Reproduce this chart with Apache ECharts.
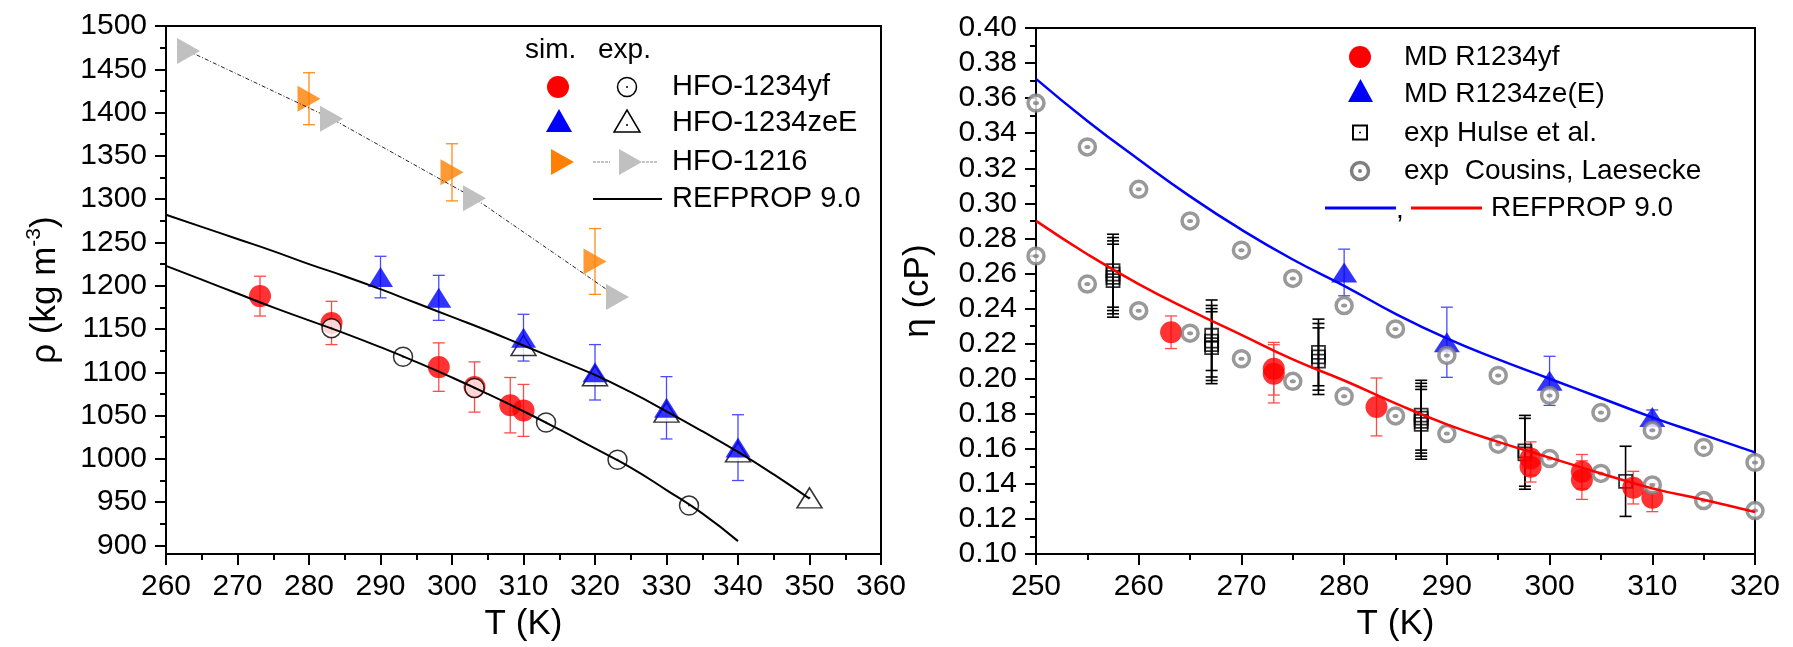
<!DOCTYPE html>
<html lang="en" style="height: 100%">
<head>
  <meta charset="utf-8">
</head>
<body style="height: 100%; margin: 0; background: #fff">
  <div id="container" style="width: 1793px; height: 647px"></div>

  <script type="text/javascript" src="https://cdn.jsdelivr.net/npm/echarts@6.0.0/dist/echarts.min.js"></script>
  <script type="text/javascript">
// ---------- left panel: density ----------
var rhoMajorTicks = [900, 950, 1000, 1050, 1100, 1150, 1200, 1250, 1300, 1350, 1400, 1450, 1500];
var rhoMinorTicks = [925, 975, 1025, 1075, 1125, 1175, 1225, 1275, 1325, 1375, 1425, 1475];

// MD HFO-1234yf
var yfSimT   = [273.15, 283.15, 298.15, 303.15, 308.15, 310.0];
var yfSimRho = [1188, 1157, 1106, 1083, 1062, 1056];
var yfSimErr = [23, 25, 28, 29, 32, 30];
// exp HFO-1234yf
var yfExpT   = [283.15, 293.15, 303.15, 313.15, 323.15, 333.15];
var yfExpRho = [1151, 1118, 1082, 1042, 999, 946];
// MD HFO-1234zeE
var zeSimT   = [290, 298.15, 310, 320, 330, 340];
var zeSimRho = [1210, 1186, 1140, 1100, 1059, 1013];
var zeSimErr = [24, 26, 27, 32, 36, 38];
// exp HFO-1234zeE
var zeExpT   = [310, 320, 330, 340, 350];
var zeExpRho = [1131, 1096, 1054, 1008, 955];
// HFO-1216
var r1216SimT   = [280, 300, 320];
var r1216SimRho = [1416, 1331, 1228];
var r1216SimErr = [30, 33, 38];
var r1216ExpT   = [263.15, 283.15, 303.15, 323.15];
var r1216ExpRho = [1471, 1393, 1301, 1187];
// REFPROP 9.0
var refYfT   = [260, 265, 270, 275, 280, 285, 290, 295, 300, 305, 310, 315, 320, 325, 330, 335, 340];
var refYfRho = [1223, 1207, 1191, 1175, 1160, 1145, 1129, 1112, 1094, 1075, 1055, 1034, 1012, 990, 964, 937, 905];
var refZeT   = [260, 265, 270, 275, 280, 285, 290, 295, 300, 305, 310, 315, 320, 325, 330, 335, 340, 345, 350];
var refZeRho = [1282, 1268, 1254, 1240, 1225, 1211, 1196, 1180, 1164, 1148, 1131, 1114, 1097, 1077, 1055, 1032, 1008, 982, 954];

// ---------- right panel: viscosity ----------
var mdYfT   = [263.15, 273.15, 273.15, 283.15, 298.15, 298.15, 303.15, 303.15, 308.15, 310.0];
var mdYfEta = [0.2265, 0.2057, 0.2028, 0.1839, 0.1545, 0.1498, 0.1470, 0.1422, 0.1379, 0.1322];
var mdYfErr = [0.0093, 0.015, 0.0166, 0.0165, 0.0095, 0.0087, 0.0098, 0.011, 0.0093, 0.008];
var mdZeT   = [280, 290, 300, 310];
var mdZeEta = [0.2606, 0.2208, 0.1988, 0.1782];
var mdZeErr = [0.0133, 0.02, 0.014, 0.004];
var hulseT   = [257.5, 257.5, 257.5, 257.5, 267.1, 267.1, 267.1, 267.1, 277.5, 277.5, 277.5,
                287.5, 287.5, 287.5, 287.5, 297.6, 297.6, 307.4];
var hulseEta = [0.2616, 0.2597, 0.2578, 0.2559, 0.2248, 0.2214, 0.2195, 0.2177, 0.2150, 0.2125, 0.2100,
                0.1792, 0.1775, 0.1757, 0.1740, 0.1589, 0.1572, 0.1415];
var hulseErr = [0.0208, 0.0208, 0.0208, 0.0208, 0.0201, 0.0204, 0.0205, 0.0205, 0.019, 0.019, 0.019,
                0.0199, 0.0199, 0.0199, 0.0199, 0.0202, 0.0202, 0.020];
var cousinsT     = [250, 255, 260, 265, 270, 275, 280, 285, 290, 295, 300, 305, 310, 315, 320];
var cousinsZeEta = [0.3572, 0.3322, 0.308, 0.290, 0.2733, 0.2572, 0.2417, 0.2284, 0.2133, 0.2019, 0.1905, 0.1807, 0.1706, 0.1608, 0.1523];
var cousinsYfEta = [0.270, 0.254, 0.2388, 0.226, 0.2114, 0.1985, 0.1900, 0.1788, 0.1687, 0.1627, 0.1545, 0.146, 0.1394, 0.1305, 0.1248];
var refEtaT   = [250, 255, 260, 265, 270, 275, 280, 285, 290, 295, 300, 305, 310, 315, 320];
var refZeEta  = [0.371, 0.347, 0.325, 0.304, 0.285, 0.268, 0.253, 0.237, 0.223, 0.211, 0.200, 0.189, 0.178, 0.168, 0.158];
var refYfEta  = [0.290, 0.271, 0.254, 0.239, 0.225, 0.211, 0.199, 0.186, 0.174, 0.164, 0.155, 0.146, 0.1375, 0.131, 0.124];

var FONT = '"Liberation Sans", Arial, sans-serif';

function pairs(xs, ys) {
  return xs.map(function (x, i) { return [x, ys[i]]; });
}
function bars(xs, ys, es) {
  return xs.map(function (x, i) { return [x, ys[i] - es[i], ys[i] + es[i]]; });
}
function errorBars(xi, yi, data, color, width, cap) {
  return {
    type: 'custom', xAxisIndex: xi, yAxisIndex: yi, data: data,
    encode: { x: 0, y: [1, 2] }, silent: true,
    renderItem: function (params, api) {
      var top = api.coord([api.value(0), api.value(2)]);
      var bot = api.coord([api.value(0), api.value(1)]);
      var st = { stroke: color, lineWidth: width };
      return {
        type: 'group',
        children: [
          { type: 'line', shape: { x1: top[0], y1: top[1], x2: bot[0], y2: bot[1] }, style: st },
          { type: 'line', shape: { x1: top[0] - cap, y1: top[1], x2: top[0] + cap, y2: top[1] }, style: st },
          { type: 'line', shape: { x1: bot[0] - cap, y1: bot[1], x2: bot[0] + cap, y2: bot[1] }, style: st }
        ]
      };
    }
  };
}
function dots(xi, yi, data, color, size) {
  return {
    type: 'scatter', xAxisIndex: xi, yAxisIndex: yi, data: data, silent: true,
    symbol: 'circle', symbolSize: size, itemStyle: { color: color }
  };
}

var axisCommon = {
  axisLine: { lineStyle: { color: '#000', width: 2 } },
  axisTick: { length: 11, lineStyle: { color: '#000', width: 2 } },
  minorTick: { show: true, splitNumber: 2, length: 6, lineStyle: { color: '#000', width: 2 } },
  splitLine: { show: false },
  axisLabel: { color: '#000', fontSize: 30, fontFamily: FONT },
  nameTextStyle: { color: '#000', fontSize: 35, fontFamily: FONT }
};

var option = {
  animation: false,
  backgroundColor: '#fff',
  grid: [
    { left: 166, top: 26, width: 715, height: 530, show: true, borderColor: '#000', borderWidth: 2 },
    { left: 1036, top: 28, width: 719, height: 528, show: true, borderColor: '#000', borderWidth: 2 }
  ],
  xAxis: [
    Object.assign({}, axisCommon, {
      gridIndex: 0, type: 'value', min: 260, max: 360, interval: 10,
      name: 'T (K)', nameLocation: 'middle', nameGap: 50,
      axisLabel: Object.assign({}, axisCommon.axisLabel, { margin: 18 })
    }),
    Object.assign({}, axisCommon, {
      gridIndex: 1, type: 'value', min: 250, max: 320, interval: 10,
      name: 'T (K)', nameLocation: 'middle', nameGap: 50,
      axisLabel: Object.assign({}, axisCommon.axisLabel, { margin: 18 })
    })
  ],
  yAxis: [
    Object.assign({}, axisCommon, {
      gridIndex: 0, type: 'value', min: 890, max: 1500, position: 'left',
      minorTick: { show: false },
      axisTick: Object.assign({}, axisCommon.axisTick, { customValues: rhoMajorTicks }),
      axisLabel: Object.assign({}, axisCommon.axisLabel, {
        margin: 19, customValues: rhoMajorTicks, formatter: function (v) { return String(v); }
      }),
      name: '{n|ρ (kg m}{s|-3}{n|)}', nameLocation: 'middle', nameGap: 100,
      nameTextStyle: {
        color: '#000', fontFamily: FONT, fontSize: 35,
        rich: {
          n: { fontSize: 35, fontFamily: FONT, color: '#000', lineHeight: 42 },
          s: { fontSize: 21, fontFamily: FONT, color: '#000', verticalAlign: 'top', lineHeight: 42 }
        }
      }
    }),
    {
      gridIndex: 0, type: 'value', min: 890, max: 1500, position: 'left', offset: 0,
      axisLine: { show: false }, splitLine: { show: false }, axisLabel: { show: false },
      axisTick: { length: 6, customValues: rhoMinorTicks, lineStyle: { color: '#000', width: 2 } }
    },
    Object.assign({}, axisCommon, {
      gridIndex: 1, type: 'value', min: 0.1, max: 0.4, interval: 0.02,
      axisLabel: Object.assign({}, axisCommon.axisLabel, {
        margin: 19, formatter: function (v) { return v.toFixed(2); }
      }),
      name: 'η (cP)', nameLocation: 'middle', nameGap: 100
    })
  ],
  series: [
    // ----- left -----
    { type: 'line', xAxisIndex: 0, yAxisIndex: 0, data: pairs(refYfT, refYfRho), showSymbol: false,
      smooth: true, lineStyle: { color: '#000', width: 2 }, silent: true },
    { type: 'line', xAxisIndex: 0, yAxisIndex: 0, data: pairs(refZeT, refZeRho), showSymbol: false,
      smooth: true, lineStyle: { color: '#000', width: 2 }, silent: true },
    { type: 'scatter', xAxisIndex: 0, yAxisIndex: 0, data: pairs(zeExpT, zeExpRho), symbol: 'triangle',
      symbolSize: [25, 20], itemStyle: { color: '#fff', borderColor: '#000', borderWidth: 1.5 } },
    dots(0, 0, pairs(zeExpT, zeExpRho), '#000', 2),
    errorBars(0, 0, bars(zeSimT, zeSimRho, zeSimErr), '#4a4aff', 1.3, 6),
    { type: 'scatter', xAxisIndex: 0, yAxisIndex: 0, data: pairs(zeSimT, zeSimRho), symbol: 'triangle',
      symbolSize: [25, 20], itemStyle: { color: '#0000ff' } },
    errorBars(0, 0, bars(yfSimT, yfSimRho, yfSimErr), '#ff4a4a', 1.3, 6),
    { type: 'scatter', xAxisIndex: 0, yAxisIndex: 0, data: pairs(yfSimT, yfSimRho), symbol: 'circle',
      symbolSize: 22, itemStyle: { color: '#ff0000' } },
    { type: 'scatter', xAxisIndex: 0, yAxisIndex: 0, data: pairs(yfExpT, yfExpRho), symbol: 'circle',
      symbolSize: 19, itemStyle: { color: '#fff', borderColor: '#000', borderWidth: 1.5 } },
    dots(0, 0, pairs(yfExpT, yfExpRho), '#000', 2),
    { type: 'line', xAxisIndex: 0, yAxisIndex: 0, data: pairs(r1216ExpT, r1216ExpRho), symbol: 'triangle',
      symbolRotate: -90, symbolSize: [26, 23], itemStyle: { color: '#c0c0c0' },
      lineStyle: { color: '#222', width: 1, type: [4, 2, 1, 2] } },
    errorBars(0, 0, bars(r1216SimT, r1216SimRho, r1216SimErr), '#ff8c1a', 1.3, 6),
    { type: 'scatter', xAxisIndex: 0, yAxisIndex: 0, data: pairs(r1216SimT, r1216SimRho), symbol: 'triangle',
      symbolRotate: -90, symbolSize: [26, 23], itemStyle: { color: '#ff8000' } },

    // ----- right -----
    errorBars(1, 2, bars(hulseT, hulseEta, hulseErr), '#000', 1.6, 6),
    { type: 'scatter', xAxisIndex: 1, yAxisIndex: 2, data: pairs(hulseT, hulseEta), symbol: 'rect',
      symbolSize: 13, itemStyle: { color: 'rgba(255,255,255,0)', borderColor: '#000', borderWidth: 1.8 } },
    { type: 'line', xAxisIndex: 1, yAxisIndex: 2, data: pairs(refEtaT, refZeEta), showSymbol: false,
      smooth: true, lineStyle: { color: '#0000ff', width: 2.5 }, silent: true },
    { type: 'line', xAxisIndex: 1, yAxisIndex: 2, data: pairs(refEtaT, refYfEta), showSymbol: false,
      smooth: true, lineStyle: { color: '#ff0000', width: 2.5 }, silent: true },
    errorBars(1, 2, bars(mdYfT, mdYfEta, mdYfErr), '#ff4a4a', 1.3, 6),
    { type: 'scatter', xAxisIndex: 1, yAxisIndex: 2, data: pairs(mdYfT, mdYfEta), symbol: 'circle',
      symbolSize: 22, itemStyle: { color: '#ff0000' } },
    errorBars(1, 2, bars(mdZeT, mdZeEta, mdZeErr), '#4a4aff', 1.3, 6),
    { type: 'scatter', xAxisIndex: 1, yAxisIndex: 2, data: pairs(mdZeT, mdZeEta), symbol: 'triangle',
      symbolSize: [26, 20], itemStyle: { color: '#0000ff' } },
    { type: 'scatter', xAxisIndex: 1, yAxisIndex: 2, data: pairs(cousinsT, cousinsZeEta), symbol: 'circle',
      symbolSize: 16, itemStyle: { color: '#fff', borderColor: '#808080', borderWidth: 3.5 } },
    { type: 'scatter', xAxisIndex: 1, yAxisIndex: 2, data: pairs(cousinsT, cousinsYfEta), symbol: 'circle',
      symbolSize: 16, itemStyle: { color: '#fff', borderColor: '#808080', borderWidth: 3.5 } },
    dots(1, 2, pairs(cousinsT, cousinsZeEta), '#808080', [6, 4]),
    dots(1, 2, pairs(cousinsT, cousinsYfEta), '#808080', [6, 4])
  ],
  graphic: [
    // left legend
    { type: 'text', left: 525, top: 36, style: { text: 'sim.', fontSize: 28, fontFamily: FONT, fill: '#000' } },
    { type: 'text', left: 598, top: 36, style: { text: 'exp.', fontSize: 28, fontFamily: FONT, fill: '#000' } },
    { type: 'circle', shape: { cx: 558, cy: 87, r: 11 }, style: { fill: '#ff0000' } },
    { type: 'circle', shape: { cx: 627, cy: 87, r: 9.5 }, style: { fill: '#fff', stroke: '#000', lineWidth: 1.5 } },
    { type: 'circle', shape: { cx: 627, cy: 87, r: 1 }, style: { fill: '#000' } },
    { type: 'text', x: 672, y: 87, style: { text: 'HFO-1234yf', fontSize: 29, fontFamily: FONT, fill: '#000', verticalAlign: 'middle' } },
    { type: 'polygon', shape: { points: [[546, 132], [572, 132], [559, 109]] }, style: { fill: '#0000ff' } },
    { type: 'polygon', shape: { points: [[614, 132], [640, 132], [627, 110]] }, style: { fill: '#fff', stroke: '#000', lineWidth: 1.5 } },
    { type: 'circle', shape: { cx: 627, cy: 125, r: 1 }, style: { fill: '#000' } },
    { type: 'text', x: 672, y: 123, style: { text: 'HFO-1234zeE', fontSize: 29, fontFamily: FONT, fill: '#000', verticalAlign: 'middle' } },
    { type: 'polygon', shape: { points: [[551, 149], [551, 175], [574, 162]] }, style: { fill: '#ff8000' } },
    { type: 'line', shape: { x1: 593, y1: 162, x2: 610, y2: 162 }, style: { stroke: '#888', lineWidth: 1, lineDash: [3, 1] } },
    { type: 'polygon', shape: { points: [[619, 149], [619, 175], [642, 162]] }, style: { fill: '#c0c0c0' } },
    { type: 'line', shape: { x1: 642, y1: 162, x2: 658, y2: 162 }, style: { stroke: '#888', lineWidth: 1, lineDash: [3, 1] } },
    { type: 'text', x: 672, y: 162, style: { text: 'HFO-1216', fontSize: 29, fontFamily: FONT, fill: '#000', verticalAlign: 'middle' } },
    { type: 'line', shape: { x1: 593, y1: 199, x2: 662, y2: 199 }, style: { stroke: '#000', lineWidth: 2 } },
    { type: 'text', x: 672, y: 199, style: { text: 'REFPROP 9.0', fontSize: 29, fontFamily: FONT, fill: '#000', verticalAlign: 'middle' } },

    // right legend
    { type: 'circle', shape: { cx: 1360, cy: 57, r: 11 }, style: { fill: '#ff0000' } },
    { type: 'text', x: 1404, y: 57, style: { text: 'MD R1234yf', fontSize: 28, fontFamily: FONT, fill: '#000', verticalAlign: 'middle' } },
    { type: 'polygon', shape: { points: [[1348, 102], [1373, 102], [1360.5, 79]] }, style: { fill: '#0000ff' } },
    { type: 'text', x: 1404, y: 94, style: { text: 'MD R1234ze(E)', fontSize: 28, fontFamily: FONT, fill: '#000', verticalAlign: 'middle' } },
    { type: 'rect', shape: { x: 1353, y: 125.5, width: 14, height: 14 }, style: { fill: '#fff', stroke: '#000', lineWidth: 2 } },
    { type: 'circle', shape: { cx: 1360, cy: 132.5, r: 1 }, style: { fill: '#000' } },
    { type: 'text', x: 1404, y: 133, style: { text: 'exp Hulse et al.', fontSize: 28, fontFamily: FONT, fill: '#000', verticalAlign: 'middle' } },
    { type: 'circle', shape: { cx: 1360, cy: 171, r: 8.5 }, style: { fill: '#fff', stroke: '#808080', lineWidth: 3.5 } },
    { type: 'circle', shape: { cx: 1360, cy: 171, r: 2 }, style: { fill: '#808080' } },
    { type: 'text', x: 1404, y: 171, style: { text: 'exp  Cousins, Laesecke', fontSize: 28, fontFamily: FONT, fill: '#000', verticalAlign: 'middle' } },
    { type: 'line', shape: { x1: 1325, y1: 208, x2: 1396, y2: 208 }, style: { stroke: '#0000ff', lineWidth: 3 } },
    { type: 'text', x: 1396, y: 210, style: { text: ',', fontSize: 28, fontFamily: FONT, fill: '#000', verticalAlign: 'middle' } },
    { type: 'line', shape: { x1: 1411, y1: 208, x2: 1482, y2: 208 }, style: { stroke: '#ff0000', lineWidth: 3 } },
    { type: 'text', x: 1491, y: 208, style: { text: 'REFPROP 9.0', fontSize: 28, fontFamily: FONT, fill: '#000', verticalAlign: 'middle' } }
  ]
};

var myChart = echarts.init(document.getElementById('container'), null, { renderer: 'canvas' });
myChart.setOption(option);
  </script>
</body>
</html>
